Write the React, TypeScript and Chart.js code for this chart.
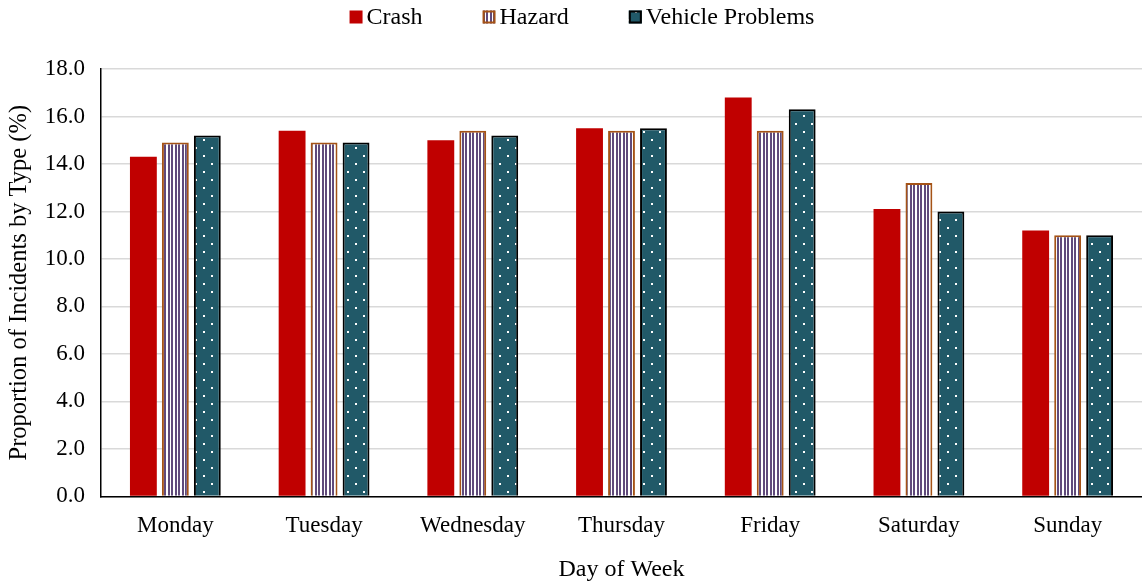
import React, { useEffect, useRef } from "react";
import { Chart, registerables } from "chart.js";
Chart.register(...registerables);

const days = ["Monday", "Tuesday", "Wednesday", "Thursday", "Friday", "Saturday", "Sunday"];
const crash = [14.3, 15.4, 15.0, 15.5, 16.8, 12.1, 11.2];
const hazard = [14.9, 14.9, 15.4, 15.4, 15.4, 13.2, 11.0];
const vehicleProblems = [15.2, 14.9, 15.2, 15.5, 16.3, 12.0, 11.0];

const FONT = "'Liberation Serif', 'Times New Roman', serif";
const FS = 23;
const LEGEND_FS = 24;

function stripePattern(): CanvasPattern | string {
  const c = document.createElement("canvas");
  c.width = 7;
  c.height = 4;
  const g = c.getContext("2d")!;
  g.fillStyle = "#ffffff";
  g.fillRect(0, 0, 7, 4);
  g.fillStyle = "#604a7b";
  g.fillRect(0, 0, 2, 4);
  g.fillRect(3, 0, 2, 4);
  return g.createPattern(c, "repeat") || "#604a7b";
}

function dotPattern(): CanvasPattern | string {
  const c = document.createElement("canvas");
  c.width = 16;
  c.height = 16;
  const g = c.getContext("2d")!;
  g.fillStyle = "#215968";
  g.fillRect(0, 0, 16, 16);
  g.fillStyle = "#ffffff";
  g.fillRect(3, 3, 2, 2);
  g.fillRect(11, 11, 2, 2);
  return g.createPattern(c, "repeat") || "#215968";
}

const legendPlugin = {
  id: "customLegend",
  afterDraw(chart: any) {
    const ctx = chart.ctx as CanvasRenderingContext2D;
    const items = chart.data.datasets.map((d: any) => ({
      label: d.label as string,
      fill: d.backgroundColor,
      stroke: d.borderColor,
      bw: d.borderWidth,
    }));
    ctx.save();
    ctx.font = `${LEGEND_FS}px ${FONT}`;
    ctx.textBaseline = "middle";
    ctx.fillStyle = "#000";
    const box = 13;
    const gapText = 4;
    const gapItem = 60;
    const widths = items.map((it: any) => box + gapText + ctx.measureText(it.label).width);
    const total = widths.reduce((a: number, b: number) => a + b, 0) + gapItem * (items.length - 1);
    let x = (chart.width - total) / 2 + 11;
    const cy = 17;
    items.forEach((it: any, i: number) => {
      ctx.fillStyle = it.fill;
      ctx.fillRect(x, cy - box / 2, box, box);
      if (it.bw > 0) {
        ctx.strokeStyle = it.stroke;
        ctx.lineWidth = 2;
        ctx.strokeRect(x + 1, cy - box / 2 + 1, box - 2, box - 2);
      }
      ctx.fillStyle = "#000";
      ctx.fillText(it.label, x + box + gapText, cy + 1);
      x += widths[i] + gapItem;
    });
    ctx.restore();
  },
};

export default function App() {
  const ref = useRef<HTMLCanvasElement>(null);
  useEffect(() => {
    document.body.style.margin = "0";
    const chart = new Chart(ref.current!, {
      type: "bar",
      data: {
        labels: days,
        datasets: [
          {
            label: "Crash",
            data: crash,
            backgroundColor: "#c00000",
            borderColor: "#c00000",
            borderWidth: 0,
          },
          {
            label: "Hazard",
            data: hazard,
            backgroundColor: stripePattern() as any,
            borderColor: "#a55316",
            borderWidth: 2,
          },
          {
            label: "Vehicle Problems",
            data: vehicleProblems,
            backgroundColor: dotPattern() as any,
            borderColor: "#000000",
            borderWidth: 2,
          },
        ],
      },
      plugins: [legendPlugin],
      options: {
        animation: false,
        responsive: false,
        maintainAspectRatio: false,
        layout: { padding: { left: 0, right: 0, top: 69, bottom: 0 } },
        datasets: { bar: { categoryPercentage: 0.645, barPercentage: 0.84 } },
        plugins: {
          legend: { display: false },
          tooltip: { enabled: false },
        },
        scales: {
          x: {
            grid: { display: false, drawTicks: false },
            border: { color: "#000", width: 1.5 },
            ticks: { font: { family: FONT, size: FS }, color: "#000", padding: 16 },
            title: {
              display: true,
              text: "Day of Week",
              font: { family: FONT, size: 24, lineHeight: 1.0 },
              color: "#000",
              padding: { top: 2, bottom: 0 },
            },
          },
          y: {
            min: 0,
            max: 18,
            ticks: {
              stepSize: 2,
              font: { family: FONT, size: FS },
              color: "#000",
              padding: 16,
              callback: (v: any) => Number(v).toFixed(1),
            },
            grid: { color: "#d9d9d9", lineWidth: 1.5, drawTicks: false },
            border: { color: "#000", width: 1.5 },
            title: {
              display: true,
              text: "Proportion of Incidents by Type (%)",
              font: { family: FONT, size: 24.5 },
              color: "#000",
              padding: { top: 5, bottom: 6 },
            },
            afterFit: (s: any) => {
              s.width = 101;
            },
          },
        },
      },
    });
    return () => chart.destroy();
  }, []);
  return (
    <div style={{ position: "absolute", left: 0, top: 0, width: 1142, height: 582 }}>
      <canvas ref={ref} width={1142} height={582} style={{ width: 1142, height: 582 }} />
    </div>
  );
}
